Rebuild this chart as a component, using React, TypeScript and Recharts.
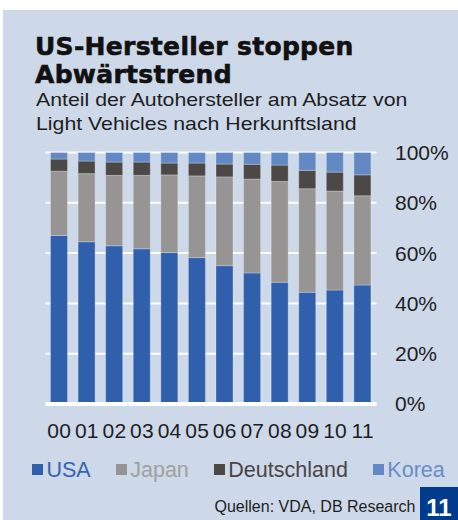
import React from 'react';
import { BarChart, Bar, XAxis, YAxis, CartesianGrid } from 'recharts';

// ---- data ----
const years = ['00', '01', '02', '03', '04', '05', '06', '07', '08', '09', '10', '11'];
const usa = [67.0, 64.5, 62.9, 61.7, 60.2, 58.2, 55.0, 52.1, 48.4, 44.4, 45.3, 47.3];
const japan = [25.6, 27.1, 28.0, 29.2, 30.9, 32.5, 35.3, 37.4, 40.1, 41.2, 39.4, 35.5];
const deutschland = [4.8, 5.0, 5.3, 5.3, 4.7, 5.1, 5.1, 5.8, 6.5, 7.3, 7.5, 8.3];
const korea = [2.6, 3.4, 3.8, 3.8, 4.2, 4.2, 4.6, 4.7, 5.0, 7.1, 7.8, 8.9];
const seriesKeys = ['usa', 'japan', 'deutschland', 'korea'];
const seriesNames = ['USA', 'Japan', 'Deutschland', 'Korea'];
const yTicks = [0, 20, 40, 60, 80, 100];

const titleLines = ['US-Hersteller stoppen', 'Abwärtstrend'];
const subtitleLines = ['Anteil der Autohersteller am Absatz von', 'Light Vehicles nach Herkunftsland'];
const sourceText = 'Quellen: VDA, DB Research';
const chartNumber = '11';

// ---- styles ----
const COLORS: Record<string, string> = {
  usa: '#3060AC',
  japan: '#969593',
  deutschland: '#4C4846',
  korea: '#6389C4',
};
const LEGEND_TEXT: Record<string, string> = {
  usa: '#3563B0',
  japan: '#A0A0A0',
  deutschland: '#4A4646',
  korea: '#6A8DC9',
};
const PANEL = '#CDD8E9';
const TEXT = '#1E1E1E';
const SANS = '"Liberation Sans", Arial, sans-serif';

const table = years.map((y, i) => ({
  year: y,
  usa: usa[i],
  japan: japan[i],
  deutschland: deutschland[i],
  korea: korea[i],
}));

export default function App() {
  return (
    <div style={{ position: 'absolute', left: 0, top: 0, width: 458, height: 520, background: '#fff', overflow: 'hidden' }}>
      <div style={{ position: 'absolute', left: 3, top: 10, width: 455, height: 510, background: PANEL }} />

      {/* Title */}
      <div
        style={{
          position: 'absolute',
          left: 35,
          top: 33,
          fontFamily: '"DejaVu Sans", sans-serif',
          fontWeight: 700,
          fontSize: 25,
          lineHeight: '28px',
          letterSpacing: 0.3,
          color: '#111',
          whiteSpace: 'nowrap',
          WebkitTextStroke: '0.6px #111',
        }}
      >
        {titleLines.map((t) => (
          <div key={t}>{t}</div>
        ))}
      </div>

      {/* Subtitle */}
      <div
        style={{
          position: 'absolute',
          left: 36,
          top: 88.4,
          fontFamily: SANS,
          fontSize: 19,
          lineHeight: '24px',
          color: TEXT,
          whiteSpace: 'nowrap',
          transform: 'scaleX(1.12)',
          transformOrigin: 'left top',
        }}
      >
        {subtitleLines.map((t) => (
          <div key={t}>{t}</div>
        ))}
      </div>

      {/* Chart */}
      <div style={{ position: 'absolute', left: 0, top: 0 }}>
        <BarChart
          width={458}
          height={520}
          data={table}
          margin={{ top: 152.5, left: 45.5, right: 0, bottom: 86 }}
          barSize={17}
        >
          <CartesianGrid horizontal vertical={false} stroke="#ffffff" strokeWidth={2} />
          <XAxis
            dataKey="year"
            interval={0}
            tickLine={false}
            axisLine={{ stroke: '#ffffff', strokeWidth: 4 }}
            tickSize={0}
            tickMargin={19}
            height={30}
            tick={{ fill: TEXT, fontSize: 21, fontFamily: SANS, letterSpacing: 0.3 }}
          />
          <YAxis
            orientation="right"
            domain={[0, 100]}
            ticks={yTicks}
            tickFormatter={(v: number) => `${v}%`}
            tickLine={false}
            axisLine={false}
            tickSize={0}
            tickMargin={18.5}
            width={81.5}
            tick={{ fill: TEXT, fontSize: 21, fontFamily: SANS }}
          />
          {seriesKeys.map((k, i) => (
            <Bar
              key={k}
              dataKey={k}
              name={seriesNames[i]}
              stackId="a"
              fill={COLORS[k]}
              stroke="#ffffff"
              strokeOpacity={0.25}
              strokeWidth={1}
              isAnimationActive={false}
            />
          ))}
        </BarChart>
      </div>

      {/* Legend */}
      <div
        style={{
          position: 'absolute',
          left: 32,
          top: 457.5,
          display: 'flex',
          alignItems: 'center',
          gap: 25,
          fontFamily: SANS,
          fontSize: 21.5,
          lineHeight: '24px',
          whiteSpace: 'nowrap',
        }}
      >
        {seriesKeys.map((k, i) => (
          <div key={k} style={{ display: 'flex', alignItems: 'center' }}>
            <span style={{ display: 'inline-block', width: 11, height: 11, background: COLORS[k], marginRight: 3.5 }} />
            <span style={{ color: LEGEND_TEXT[k] }}>{seriesNames[i]}</span>
          </div>
        ))}
      </div>

      {/* Source */}
      <div
        style={{
          position: 'absolute',
          left: 214.5,
          top: 497.5,
          fontFamily: SANS,
          fontSize: 16,
          lineHeight: '18px',
          color: TEXT,
          whiteSpace: 'nowrap',
        }}
      >
        {sourceText}
      </div>

      {/* Number box */}
      <div
        style={{
          position: 'absolute',
          left: 420,
          top: 487,
          width: 38,
          height: 33,
          background: '#003B8E',
        }}
      >
        <div
          style={{
            position: 'absolute',
            left: 0,
            width: 38,
            top: 8,
            textAlign: 'center',
            fontFamily: SANS,
            fontWeight: 700,
            fontSize: 24,
            lineHeight: '26px',
            color: '#ffffff',
          }}
        >
          {chartNumber}
        </div>
      </div>
    </div>
  );
}
